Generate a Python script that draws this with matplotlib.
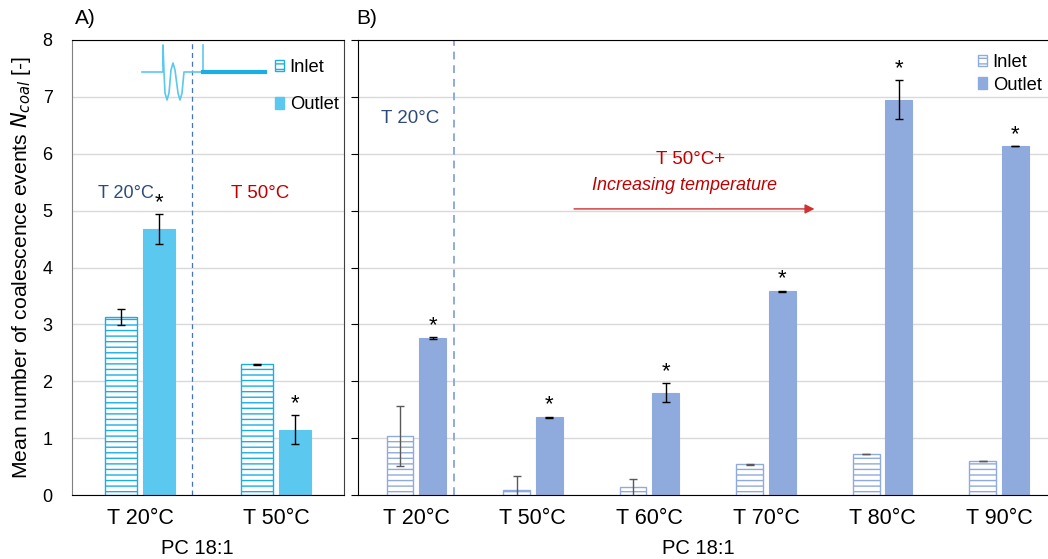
import matplotlib.pyplot as plt
import numpy as np
from matplotlib.patches import Patch

plt.rcParams['font.family'] = ['Liberation Sans', 'DejaVu Sans']

# panel A data
temps_a = ['T 20°C', 'T 50°C']
inlet_a = [3.13, 2.30]
inlet_a_err = [0.14, 0.01]
outlet_a = [4.68, 1.15]
outlet_a_err = [0.26, 0.25]

# panel B data
temps_b = ['T 20°C', 'T 50°C', 'T 60°C', 'T 70°C', 'T 80°C', 'T 90°C']
inlet_b = [1.04, 0.08, 0.14, 0.54, 0.72, 0.59]
inlet_b_err = [0.53, 0.25, 0.15, 0.01, 0.0, 0.0]
outlet_b = [2.76, 1.37, 1.80, 3.58, 6.95, 6.13]
outlet_b_err = [0.02, 0.01, 0.165, 0.01, 0.34, 0.0]

col_a = '#5BC8F0'
hatch_a = '#1AAEE6'
col_b = '#8FAADC'
navy = '#2E4A7A'
red = '#C00000'
W, H = 1048, 559

fig = plt.figure(figsize=(W / 100, H / 100), dpi=100)
ax_a = fig.add_axes([72 / W, 1 - 495 / H, 272 / W, 455 / H])
ax_b = fig.add_axes([358 / W, 1 - 495 / H, (W - 358) / W, 455 / H])


def draw_panel(ax, cats, inl, inl_err, out, out_err, fc, hc, ecol):
    x = np.arange(len(cats))
    w = 0.23
    off = 0.14
    ax.bar(x - off, inl, w, color='white', edgecolor=hc, hatch='---', linewidth=1.0, zorder=2)
    ax.bar(x + off, out, w, color=fc, edgecolor=fc, linewidth=0.8, zorder=2)
    ax.errorbar(x - off, inl, yerr=inl_err, fmt='none', ecolor=ecol, elinewidth=1, capsize=3, zorder=3)
    ax.errorbar(x + off, out, yerr=out_err, fmt='none', ecolor='black', elinewidth=1, capsize=3, zorder=3)
    for xi, v, e in zip(x + off, out, out_err):
        ax.text(xi, v + e + 0.02, '*', ha='center', va='bottom', fontsize=16)
    ax.set_xticks(x)
    ax.set_xticklabels(cats, fontsize=15.5)
    ax.set_ylim(0, 8)
    ax.set_yticks(range(9))
    ax.yaxis.grid(True, color='#d9d9d9', linewidth=1, zorder=0)
    ax.set_axisbelow(True)
    ax.tick_params(axis='x', length=0, pad=9)
    return x


draw_panel(ax_a, temps_a, inlet_a, inlet_a_err, outlet_a, outlet_a_err, col_a, hatch_a, 'black')
ax_a.set_xlim(-0.5, 1.5)
ax_a.tick_params(axis='y', length=0, pad=14, labelsize=13)
ax_a.spines['left'].set_color('#808080')
ax_a.spines['right'].set_color('#404040')
ax_a.spines['top'].set_color('black')
ax_a.set_ylabel('Mean number of coalescence events $N_{coal}$ [-]', fontsize=15.2, labelpad=7)
ax_a.axvline(0.382, color='#4472C4', linestyle=(0, (4, 3)), linewidth=0.9, zorder=1)
ax_a.text(-0.1, 5.3, 'T 20°C', color=navy, fontsize=13, ha='center', va='center')
ax_a.text(0.88, 5.3, 'T 50°C', color=red, fontsize=13.5, ha='center', va='center')

draw_panel(ax_b, temps_b, inlet_b, inlet_b_err, outlet_b, outlet_b_err, col_b, col_b, '#595959')
ax_b.set_xlim(-0.5, 5.42)
ax_b.tick_params(axis='y', length=5, labelleft=False)
ax_b.spines['right'].set_visible(False)
ax_b.axvline(0.323, color=col_b, linestyle=(0, (4, 3)), linewidth=1.4, zorder=1)
ax_b.text(-0.05, 6.62, 'T 20°C', color=navy, fontsize=13.5, ha='center', va='center')
ax_b.text(2.35, 5.9, 'T 50°C+', color=red, fontsize=13.5, ha='center', va='center')
ax_b.text(2.30, 5.45, 'Increasing temperature', color=red, fontsize=13, style='italic',
          ha='center', va='center')
ax_b.annotate('', xy=(3.44, 5.03), xytext=(1.33, 5.03),
              arrowprops=dict(arrowstyle='-|>', color='#D03030', lw=1.0, mutation_scale=14))

# legends
leg_a = [Patch(facecolor='white', edgecolor=hatch_a, hatch='---', label='Inlet'),
         Patch(facecolor=col_a, edgecolor=col_a, label='Outlet')]
fig.legend(handles=leg_a, loc='upper left', bbox_to_anchor=(275 / W, 1 - 59 / H), frameon=False,
           fontsize=13.2, handlelength=0.5, handleheight=0.6, handletextpad=0.3, labelspacing=1.1,
           borderpad=0, borderaxespad=0)
leg_b = [Patch(facecolor='white', edgecolor=col_b, hatch='---', label='Inlet'),
         Patch(facecolor=col_b, edgecolor=col_b, label='Outlet')]
fig.legend(handles=leg_b, loc='upper left', bbox_to_anchor=(978 / W, 1 - 54 / H), frameon=False,
           fontsize=13.2, handlelength=0.5, handleheight=0.6, handletextpad=0.3, labelspacing=0.3,
           borderpad=0, borderaxespad=0)

# channel icon in panel A
icon_x = [142, 163, 163, 164, 165, 167, 169, 171, 173, 175, 178, 180, 182, 184, 204]
icon_y = [72, 72, 45, 72, 93, 100, 93, 70, 63, 70, 93, 100, 93, 72, 72]
fig.add_artist(plt.Line2D([v / W for v in icon_x], [1 - v / H for v in icon_y],
                          color=col_a, linewidth=1.2, transform=fig.transFigure))
fig.add_artist(plt.Line2D([203 / W, 203 / W], [1 - 45 / H, 1 - 72 / H],
                          color=col_a, linewidth=1.2, transform=fig.transFigure))
fig.add_artist(plt.Line2D([203 / W, 265 / W], [1 - 72 / H, 1 - 72 / H],
                          color='#1AAEE6', linewidth=3, transform=fig.transFigure))

fig.text(75 / W, 1 - 18 / H, 'A)', fontsize=15, va='center', ha='left')
fig.text(356 / W, 1 - 18 / H, 'B)', fontsize=15, va='center', ha='left')
fig.text(197 / W, 1 - 549 / H, 'PC 18:1', fontsize=14.5, ha='center', va='center')
fig.text(698 / W, 1 - 549 / H, 'PC 18:1', fontsize=14.5, ha='center', va='center')

fig.savefig('out.png', dpi=100)
